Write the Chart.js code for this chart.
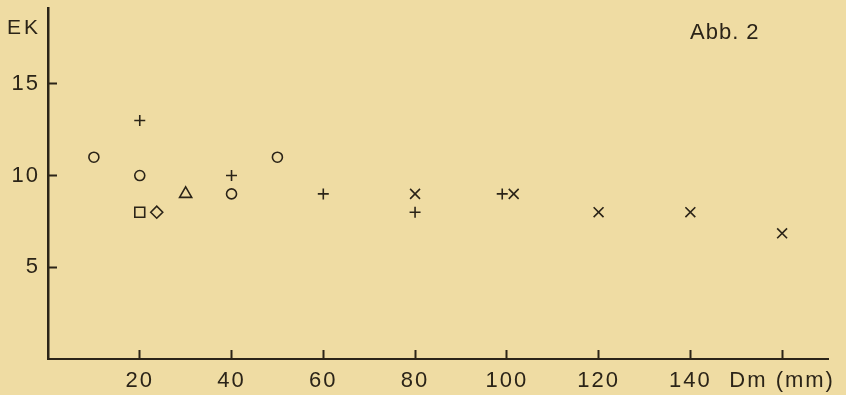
<!DOCTYPE html>
<html>
<head>
<meta charset="utf-8">
<script src="https://cdn.jsdelivr.net/npm/chart.js@4/dist/chart.umd.min.js"></script>
<style>
  html, body { margin: 0; padding: 0; background: #efdca3; }
  canvas { display: block; }
</style>
</head>
<body>
<canvas id="grafico" width="846" height="395"></canvas>
<script>
// Werte aus Abb. 2 (Dm in mm, EK)
const kreisDm = [10, 20, 40, 50];
const kreisEK = [11, 10, 9, 11];
const plusDm = [20, 40, 60, 80, 99];
const plusEK = [13, 10, 9, 8, 9];
const kreuzDm = [80, 101.5, 120, 140, 160];
const kreuzEK = [9, 9, 8, 8, 6.85];
const quadratDm = [20];
const quadratEK = [8];
const rauteDm = [23.7];
const rauteEK = [8];
const dreieckDm = [30];
const dreieckEK = [9];

const xTicks = [20, 40, 60, 80, 100, 120, 140, 160];
const xTickLabels = ['20', '40', '60', '80', '100', '120', '140', 'Dm (mm)'];
const yTicks = [5, 10, 15];

const tinte = '#2b2418';

function punkte(xs, ys) {
	return xs.map((x, i) => ({ x: x, y: ys[i] }));
}

function serie(xs, ys, stil, radius) {
	return {
		data: punkte(xs, ys),
		pointStyle: stil,
		pointRadius: radius,
		pointBorderColor: tinte,
		pointBackgroundColor: 'rgba(0,0,0,0)',
		pointBorderWidth: 1.6,
		showLine: false,
	};
}

// Achsen ohne Zusatzabstand fuer Beschriftungen
function ohnePadding(scale) {
	scale.paddingTop = 0;
	scale.paddingBottom = 0;
	scale.paddingLeft = 0;
	scale.paddingRight = 0;
}

// Beschriftungen "EK" und "Abb. 2"
const textPlugin = {
	id: 'texte',
	beforeDraw(chart) {
		chart.ctx.letterSpacing = '2px';
	},
	afterDraw(chart) {
		const ctx = chart.ctx;
		ctx.save();
		ctx.fillStyle = tinte;
		ctx.textBaseline = 'alphabetic';
		ctx.textAlign = 'left';
		ctx.letterSpacing = '3px';
		ctx.font = '21px "Liberation Sans"';
		ctx.fillText('EK', 7, 34);
		ctx.letterSpacing = '1px';
		ctx.font = '22px "Liberation Sans"';
		ctx.fillText('Abb. 2', 690, 39);
		ctx.restore();
	},
};

var ctx = document.getElementById('grafico').getContext('2d');
var grafico = new Chart(ctx, {
	type: 'scatter',
	data: {
		datasets: [
			serie(kreisDm, kreisEK, 'circle', 5),
			serie(plusDm, plusEK, 'cross', 5.5),
			serie(kreuzDm, kreuzEK, 'crossRot', 7),
			serie(quadratDm, quadratEK, 'rect', 7),
			serie(rauteDm, rauteEK, 'rectRot', 6),
			serie(dreieckDm, dreieckEK, 'triangle', 7),
		],
	},
	options: {
		responsive: false,
		animation: false,
		devicePixelRatio: 1,
		layout: { padding: { top: 7, right: 18, left: 0, bottom: 0 } },
		plugins: {
			legend: { display: false },
			tooltip: { enabled: false },
		},
		scales: {
			x: {
				type: 'linear',
				min: 0,
				max: 170,
				afterBuildTicks(scale) {
					scale.ticks = xTicks.map((v) => ({ value: v }));
				},
				afterFit(scale) {
					scale.height = 36;
					ohnePadding(scale);
				},
				ticks: {
					autoSkip: false,
					maxRotation: 0,
					padding: 18,
					color: tinte,
					font: { family: 'Liberation Sans', size: 22 },
					callback: function (value, index) {
						return xTickLabels[index];
					},
				},
				grid: {
					drawOnChartArea: false,
					drawTicks: true,
					tickLength: -9,
					tickColor: tinte,
					tickWidth: 2,
				},
				border: { color: tinte, width: 2 },
			},
			y: {
				min: 0,
				max: 19.1,
				afterBuildTicks(scale) {
					scale.ticks = yTicks.map((v) => ({ value: v }));
				},
				afterFit(scale) {
					scale.width = 48;
					ohnePadding(scale);
				},
				ticks: {
					padding: 17,
					color: tinte,
					font: { family: 'Liberation Sans', size: 22 },
				},
				grid: {
					drawOnChartArea: false,
					drawTicks: true,
					tickLength: -9,
					tickColor: tinte,
					tickWidth: 2,
				},
				border: { color: tinte, width: 2.5 },
			},
		},
	},
	plugins: [textPlugin],
});
</script>
</body>
</html>
